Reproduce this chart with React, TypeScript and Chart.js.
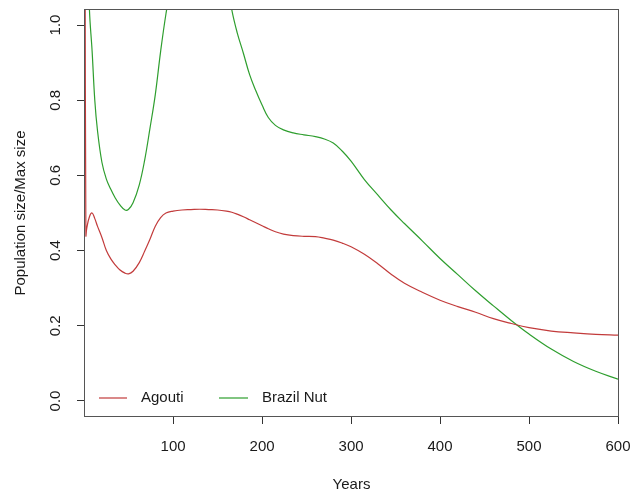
import React, { useEffect, useRef } from "react";
import { Chart, registerables } from "chart.js";

Chart.register(...registerables);

const years = [1, 2, 3, 6, 9, 12, 15, 20, 25, 30, 35, 40, 46, 50, 55, 62, 68, 74, 80, 86, 92, 100, 110, 120, 130, 140, 150, 160, 166, 172, 179, 186, 193, 200, 207, 215, 224, 235, 247, 260, 270, 280, 290, 300, 315, 330, 345, 360, 380, 400, 420, 440, 460, 480, 500, 525, 550, 575, 600];

const agouti = [1.3, 0.44, 0.46, 0.49, 0.5, 0.485, 0.465, 0.435, 0.4, 0.378, 0.362, 0.349, 0.34, 0.338, 0.345, 0.368, 0.398, 0.43, 0.465, 0.488, 0.5, 0.505, 0.508, 0.509, 0.51, 0.509, 0.508, 0.505, 0.502, 0.497, 0.49, 0.482, 0.474, 0.466, 0.458, 0.45, 0.444, 0.44, 0.438, 0.437, 0.433, 0.428, 0.42, 0.41, 0.39, 0.365, 0.337, 0.313, 0.289, 0.268, 0.251, 0.236, 0.219, 0.206, 0.195, 0.186, 0.181, 0.177, 0.175];

const brazilNut = [1.7, 1.45, 1.3, 1.04, 0.93, 0.8, 0.72, 0.635, 0.59, 0.563, 0.54, 0.522, 0.508, 0.51, 0.527, 0.575, 0.64, 0.725, 0.815, 0.93, 1.03, 1.14, 1.26, 1.34, 1.37, 1.34, 1.26, 1.13, 1.04, 0.98, 0.925, 0.868, 0.825, 0.787, 0.754, 0.733, 0.721, 0.713, 0.708, 0.703, 0.697, 0.686, 0.665, 0.638, 0.589, 0.548, 0.508, 0.472, 0.426, 0.379, 0.336, 0.293, 0.253, 0.214, 0.178, 0.138, 0.105, 0.079, 0.058];

const xTicks = [100, 200, 300, 400, 500, 600];
const yTicks = [0, 0.2, 0.4, 0.6, 0.8, 1.0];
const yTickLabels = ["0.0", "0.2", "0.4", "0.6", "0.8", "1.0"];
const seriesNames = ["Agouti", "Brazil Nut"];
const seriesColors = ["#C23B3B", "#2E9E2E"];
const xTitle = "Years";
const yTitle = "Population size/Max size";

const FONT = "'Liberation Sans', Arial, sans-serif";
const TEXT = "#1a1a1a";

export default function App() {
  const ref = useRef<HTMLCanvasElement>(null);

  useEffect(() => {
    const canvas = ref.current;
    if (!canvas) return;

    const rStyle = {
      id: "rStyle",
      afterDraw(chart: any) {
        const { ctx, chartArea: a, scales } = chart;
        ctx.save();
        // box
        ctx.strokeStyle = "#555";
        ctx.lineWidth = 1;
        ctx.strokeRect(a.left - 0.5, a.top - 0.5, a.right - a.left + 1, a.bottom - a.top + 1);
        // y tick labels (rotated, R style)
        ctx.fillStyle = TEXT;
        ctx.font = `15px ${FONT}`;
        ctx.textAlign = "center";
        ctx.textBaseline = "middle";
        yTicks.forEach((v, i) => {
          const y = scales.y.getPixelForValue(v);
          ctx.save();
          ctx.translate(56, y);
          ctx.rotate(-Math.PI / 2);
          ctx.fillText(yTickLabels[i], 0, 0);
          ctx.restore();
        });
        // legend (bottom-left inside)
        const ly = a.bottom - 18;
        const items = [
          { x0: a.left + 14, x1: a.left + 42, tx: a.left + 56 },
          { x0: a.left + 134, x1: a.left + 163, tx: a.left + 177 },
        ];
        ctx.textAlign = "left";
        items.forEach((it, i) => {
          ctx.strokeStyle = seriesColors[i];
          ctx.lineWidth = 1.2;
          ctx.beginPath();
          ctx.moveTo(it.x0, ly);
          ctx.lineTo(it.x1, ly);
          ctx.stroke();
          ctx.fillStyle = TEXT;
          ctx.fillText(seriesNames[i], it.tx, ly);
        });
        ctx.restore();
      },
    };

    const chart = new Chart(canvas, {
      type: "line",
      data: {
        datasets: [
          {
            label: seriesNames[0],
            data: years.map((x, i) => ({ x, y: agouti[i] })),
            borderColor: seriesColors[0],
            borderWidth: 1.2,
            pointRadius: 0,
            tension: 0.4,
            clip: 0,
            fill: false,
          },
          {
            label: seriesNames[1],
            data: years.map((x, i) => ({ x, y: brazilNut[i] })),
            borderColor: seriesColors[1],
            borderWidth: 1.2,
            pointRadius: 0,
            tension: 0.4,
            clip: 0,
            fill: false,
          },
        ],
      },
      options: {
        responsive: false,
        animation: false,
        devicePixelRatio: 1,
        layout: { autoPadding: false, padding: { left: 0, top: 10, right: 13, bottom: 0 } },
        plugins: { legend: { display: false }, tooltip: { enabled: false } },
        scales: {
          x: {
            type: "linear",
            position: "bottom",
            min: 1,
            max: 600,
            afterBuildTicks: (s: any) => {
              s.ticks = xTicks.map((v) => ({ value: v }));
            },
            afterFit: (s: any) => {
              s.height = 78;
              s.paddingLeft = 0;
              s.paddingRight = 0;
            },
            grid: { display: true, drawOnChartArea: false, drawTicks: true, tickLength: 8, tickColor: "#333", tickWidth: 1 },
            border: { display: false },
            ticks: {
              font: { family: FONT, size: 15 },
              color: TEXT,
              padding: 14,
              maxRotation: 0,
              autoSkip: false,
              callback: (v: any) => String(v),
            },
            title: {
              display: true,
              text: xTitle,
              font: { family: FONT, size: 15 },
              color: TEXT,
              padding: { top: 0, bottom: 0 },
            },
          },
          y: {
            type: "linear",
            position: "left",
            min: -0.04,
            max: 1.04,
            afterBuildTicks: (s: any) => {
              s.ticks = yTicks.map((v) => ({ value: v }));
            },
            afterFit: (s: any) => {
              s.width = 85;
              s.paddingTop = 0;
              s.paddingBottom = 0;
            },
            grid: { display: true, drawOnChartArea: false, drawTicks: true, tickLength: 8, tickColor: "#333", tickWidth: 1 },
            border: { display: false },
            ticks: { display: false },
            title: {
              display: true,
              text: yTitle,
              font: { family: FONT, size: 15 },
              color: TEXT,
              padding: { top: 12, bottom: 0 },
            },
          },
        },
      },
      plugins: [rStyle],
    } as any);

    return () => chart.destroy();
  }, []);

  return (
    <div style={{ position: "fixed", left: 0, top: 0, width: 631, height: 494, background: "#fff" }}>
      <canvas ref={ref} width={631} height={494} style={{ display: "block" }} />
    </div>
  );
}
